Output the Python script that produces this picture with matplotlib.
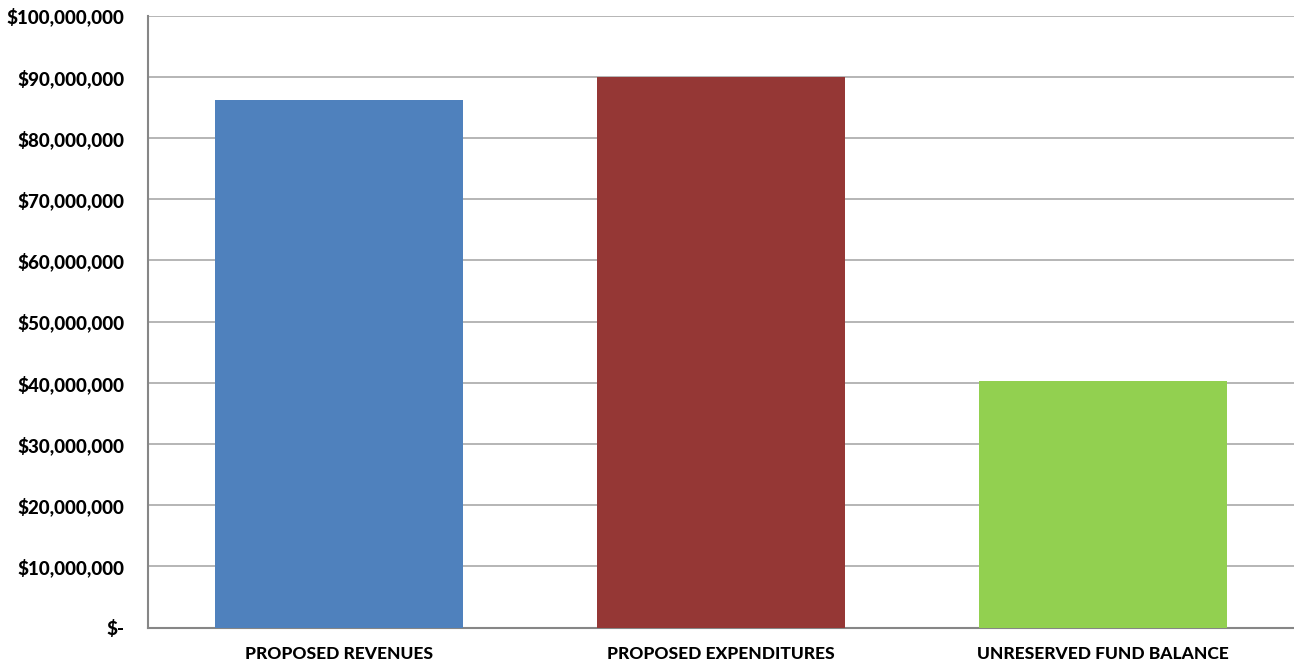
import matplotlib
matplotlib.use("Agg")
import matplotlib.pyplot as plt
from matplotlib.ticker import FuncFormatter

categories = ["PROPOSED REVENUES", "PROPOSED EXPENDITURES", "UNRESERVED FUND BALANCE"]
amounts = [86200000, 89950000, 40300000]
colors = ["#4F81BD", "#953735", "#92D050"]

plt.rcParams['font.family'] = ['Lato', 'DejaVu Sans']

fig = plt.figure(figsize=(12.94, 6.66), dpi=100)
ax = fig.add_axes([0.1144, 0.0575, 0.8856, 0.919])

ax.bar(range(len(categories)), amounts, width=0.647, color=colors, zorder=3)
ax.set_xlim(-0.5, len(categories) - 0.5)
ax.set_ylim(0, 100000000)
ax.set_yticks(range(0, 100000001, 10000000))


def money(v, pos):
    if v == 0:
        return "$-"
    return "${:,.0f}".format(v)


ax.yaxis.set_major_formatter(FuncFormatter(money))
ax.set_xticks(range(len(categories)))
ax.set_xticklabels(categories)

ax.grid(axis='y', color='#b0b0b0', linewidth=1.3, zorder=0)
for side in ['top', 'right']:
    ax.spines[side].set_visible(False)
for side in ['left', 'bottom']:
    ax.spines[side].set_color('#868686')
    ax.spines[side].set_linewidth(1.5)

ax.tick_params(axis='both', length=0)
ax.tick_params(axis='y', pad=17, labelsize=13.5)
ax.tick_params(axis='x', pad=13, labelsize=12.5)
for lbl in ax.get_xticklabels() + ax.get_yticklabels():
    lbl.set_fontweight(900)

fig.savefig("out.png", dpi=100)
